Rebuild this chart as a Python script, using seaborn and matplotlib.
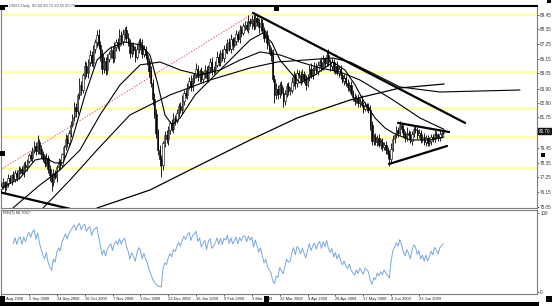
import numpy as np
import pandas as pd
import matplotlib
matplotlib.use("Agg")
import matplotlib.pyplot as plt
import seaborn as sns
from matplotlib.patches import Rectangle

# ---------------- data ----------------
closes = [
    76.6, 76.9, 76.5, 76.8, 77.2, 77.0, 77.4, 77.1, 77.6, 77.3, 77.8, 77.9, 77.6, 78.2, 78.0, 78.5, 78.9, 78.7, 79.3, 79.6, 79.2, 79.9,
    79.4, 79.0, 78.6, 78.3, 78.7, 77.9, 77.4, 76.9,
    77.6, 77.3, 78.0, 78.4, 78.2, 79.0, 79.5, 80.1, 79.8, 80.6, 81.2,
    81.8, 82.5, 82.2, 83.4, 84.2, 83.8, 84.9, 85.6, 85.1, 85.9, 86.4, 85.8, 86.9, 87.4, 87.9,
    87.2, 86.5, 85.4, 86.0, 85.3, 86.1, 86.5, 86.8, 86.2, 87.0, 87.4, 87.1, 87.9, 87.5, 88.0, 88.3,
    87.7, 87.3, 86.6, 87.1, 86.8, 86.3, 86.9, 87.4, 87.2, 86.5, 86.9, 86.4, 86.0, 85.2, 84.3, 83.1, 82.0, 80.6, 79.3, 78.6, 78.2,
    79.8, 80.4, 80.1, 80.8, 81.3, 80.9, 81.7, 81.5, 82.1, 82.6, 82.3, 83.0, 83.6, 83.4, 84.1, 84.5, 84.0, 84.7, 84.9,
    85.4, 84.8, 85.2, 84.6, 85.0, 85.3, 84.7, 85.5, 85.9, 85.2, 85.4, 85.7, 86.3, 85.9, 86.6, 86.2, 86.9, 86.8, 87.4, 86.9,
    87.6, 87.2, 87.5, 88.0, 87.6, 88.3, 88.1, 88.6, 88.7, 88.4, 89.0, 88.8, 89.1, 88.6, 89.2,
    88.9, 88.5, 88.8, 88.3, 87.7, 87.9, 87.2, 86.8, 86.4, 84.6, 83.4, 83.9, 83.5, 84.2, 83.6, 83.0,
    83.5, 84.1, 83.7, 83.8, 84.4, 84.9, 84.3, 85.1, 84.9, 84.5, 85.0, 84.6, 84.2, 84.8, 85.4, 84.9, 85.3, 85.6, 85.2, 85.7,
    85.9, 85.5, 86.1, 85.8, 86.4,
    85.9, 85.6, 85.9, 85.3, 85.6, 85.1, 85.4, 84.9, 84.5, 84.7, 84.3, 84.0, 84.2, 83.6, 83.3, 83.0, 83.2, 82.8, 83.0, 82.7,
    82.4, 82.6, 82.5, 82.3,
    81.2, 80.0, 80.3, 79.9, 80.2, 79.7, 79.9, 79.5, 79.7, 79.3, 79.0, 78.6,
    79.4, 80.1, 80.4, 80.8, 80.6, 81.2, 80.9, 80.5, 80.2, 80.6, 80.4, 80.0, 80.5, 80.9, 80.8, 80.4, 80.6, 80.1, 80.3, 79.9,
    80.2, 79.8, 80.0, 80.3, 80.1, 80.5, 80.4, 80.2, 80.5, 80.6, 80.7,
]
first_open = 76.4
# upper / lower shadow lengths, tenths of a point per bar
wick_up_tenths = ("2312321322 3122312324 3523234232 3223212432 3243253243 2433245343 3423342353 4234323342 "
                  "3432324354 3432343234 2323423234 3243232432 3423432334 2342332432 3342343234 3234325343 "
                  "2343232432 3234232342 3232432352 3234232323 2323232423 2343232323 2323432323 2324232322 "
                  "3223223223 22322")
wick_dn_tenths = ("3242323223 2323232232 3243232347 3242323232 3234234233 4323343543 4323433243 3432433423 "
                  "4323343434 4594334323 3232332323 3423423323 4323233232 3234232332 3232432343 2343342634 "
                  "3253233234 3232342323 3232323234 3232332323 3233233232 3243323233 2345323232 3232323223 "
                  "2322322322 32222")

date_labels = ["11 Aug 2008", "2 Sep 2008", "24 Sep 2008", "16 Oct 2008", "7 Nov 2008", "1 Dec 2008",
               "23 Dec 2008", "16 Jan 2009", "9 Feb 2009", "3 Mar 2009", "22 Mar 2009", "9 Apr 2009",
               "28 Apr 2009", "17 May 2009", "4 Jun 2009", "23 Jun 2009"]
date_label_bars = [0, 16, 32, 48, 64, 80, 96, 112, 128, 144, 160, 176, 192, 208, 224, 240]

price_ticks = [75.05, 76.15, 77.25, 78.35, 79.45, 81.75, 82.80, 83.90, 85.05, 86.15, 87.25, 88.35, 89.45]
price_tick_labels = ["75.05", "76.15", "77.25", "78.35", "79.45", "81.75", "82.80", "83.90", "85.05",
                     "86.15", "87.25", "88.35", "89.45"]
last_price_label = "80.70"
last_price = 80.70
level_lines = [89.50, 85.15, 82.45, 80.28, 77.95]

ma_fast_bar = [0.5, 10.9, 19.5, 25.2, 31, 35.6, 40.7, 48.2, 55.1, 62.6, 71.2, 79.8, 85.5, 90.1, 94.1, 98.2, 102.8,
               111.4, 120, 131.5, 143, 150.4, 155.6, 160.2, 166, 171.7, 180.3, 190.6, 197.5, 203.3, 207.9, 214.8,
               220.5, 225.1, 234.9, 246.3, 254.4]
ma_fast_val = [76.45, 77.20, 78.55, 78.70, 78.33, 78.33, 80.05, 83.43, 86.05, 86.95, 87.40, 87.18, 86.43, 84.18,
               81.93, 81.18, 81.70, 83.43, 84.55, 86.05, 87.55, 88.08, 87.33, 86.05, 85.15, 84.33, 84.93, 85.90,
               85.30, 84.18, 83.05, 81.70, 80.95, 80.58, 80.05, 80.05, 80.28]
ma_mid_bar = [6.8, 22.3, 33.8, 45.3, 56.8, 68.3, 79.8, 91.3, 102.8, 114.2, 125.7, 137.2, 148.7, 160.2, 171.7, 183.2,
              194.7, 206.1, 217.6, 225.1, 240.6, 254.4]
ma_mid_val = [74.95, 76.68, 77.80, 79.30, 81.93, 84.18, 85.68, 85.90, 85.30, 84.93, 85.30, 86.05, 86.65, 86.43, 85.90,
              85.45, 85.15, 84.55, 83.65, 83.05, 81.70, 80.85]
ma_slow_bar = [24.1, 39.6, 55.1, 74, 97, 120, 143, 158.5, 190.6, 200.4, 229.1, 252.1, 298]
ma_slow_val = [74.95, 77.05, 79.30, 81.93, 83.43, 84.55, 85.45, 85.90, 86.20, 85.90, 84.03, 83.65, 83.80]
ma_long_bar = [55.1, 85.5, 114.2, 143, 170, 200.4, 229.1, 254.4]
ma_long_val = [74.95, 76.30, 78.18, 80.05, 81.70, 83.05, 83.95, 84.25]

trend_lines = {
    "resistance": ([144.7, 266.5], [89.58, 81.33]),
    "tri_top": ([228.0, 257.3], [81.33, 80.65]),
    "tri_bottom": ([222.8, 256.1], [78.25, 79.60]),
    "old_support": ([0.35, 60.0], [76.10, 74.25]),
}
red_line = ([-0.6, 144.2], [77.8, 89.5])

rsi_title = "RSI(7) 60.7057"
chart_title = "USDX,Daily  80.64 80.73 80.55 80.70"

# ---------------- derived OHLC ----------------
n = min(len(closes), len(wick_up_tenths.replace(" ", "")), len(wick_dn_tenths.replace(" ", "")))
c = np.array(closes[:n])
o = np.concatenate([[first_open], c[:-1]])
wu = np.array([int(ch) for ch in wick_up_tenths.replace(" ", "")][:n]) / 10.0
wd = np.array([int(ch) for ch in wick_dn_tenths.replace(" ", "")][:n]) / 10.0
hi = np.maximum(o, c) + wu
lo = np.minimum(o, c) - wd
bars = np.arange(n)

# RSI(7), Wilder smoothing
d = np.diff(c)
g = np.clip(d, 0, None)
l = np.clip(-d, 0, None)
per = 7
rsi = np.full(n, np.nan)
ag, al = g[:per].mean(), l[:per].mean()
rsi[per] = 100 - 100 / (1 + ag / al) if al > 0 else 100
for k in range(per, len(d)):
    ag = (ag * (per - 1) + g[k]) / per
    al = (al * (per - 1) + l[k]) / per
    rsi[k + 1] = 100 - 100 / (1 + ag / al) if al > 0 else 100

# ---------------- figure ----------------
sns.set_theme(style="white")
plt.rcParams['font.family'] = ['Liberation Sans', 'DejaVu Sans']

W, H = 552, 306
fig = plt.figure(figsize=(W / 100, H / 100), dpi=100)
fig.patch.set_facecolor("white")

def fx(px):
    return px / W

def fy(py):
    return 1 - py / H

ax = fig.add_axes([fx(1), fy(208), fx(536), 202 / H])
axr = fig.add_axes([fx(1), fy(294), fx(536), 84 / H])

xlim = (-0.06, 307.8)
TXT = "#333333"

# level lines
for lv in level_lines:
    ax.axhline(lv, color="#FFFFB0", lw=2.0, zorder=1)

# candles
up = c >= o
ax.vlines(bars, lo, hi, color="black", lw=0.6, zorder=3)
body_h = np.maximum(np.abs(c - o), 0.03)
ax.bar(bars, body_h, bottom=np.minimum(o, c), width=0.75,
       color=np.where(up, "white", "black"), edgecolor="black", linewidth=0.4, zorder=4)

# moving averages
for bx, by, lw in [(ma_fast_bar, ma_fast_val, 0.8), (ma_mid_bar, ma_mid_val, 0.8),
                   (ma_slow_bar, ma_slow_val, 0.8), (ma_long_bar, ma_long_val, 0.9)]:
    sns.lineplot(x=bx, y=by, ax=ax, color="black", lw=lw, estimator=None, sort=False, zorder=5)

# trend lines
for name, (tx, ty) in trend_lines.items():
    ax.plot(tx, ty, color="black", lw=1.6, zorder=6, solid_capstyle="round")
ax.plot(red_line[0], red_line[1], color="#E06060", lw=0.7, ls=(0, (1.5, 1.5)), zorder=2)

ax.set_xlim(*xlim)
ax.set_ylim(74.95, 90.10)
ax.yaxis.tick_right()
ax.set_yticks(price_ticks)
ax.set_yticklabels(price_tick_labels)
ax.tick_params(axis="y", which="both", direction="out", length=1.5, width=0.5, pad=0.8,
               labelsize=3.3, colors=TXT, right=True, left=False)
ax.set_xticks([])
ax.set_xlabel("")
ax.set_ylabel("")
for s in ax.spines.values():
    s.set_color("#7F7F7F")
    s.set_linewidth(0.8)
ax.spines["top"].set_color("black")
ax.spines["top"].set_linewidth(1.5)

ax.text(1.003, last_price, last_price_label, transform=ax.get_yaxis_transform(), ha="left", va="center",
        fontsize=3.3, color="white", bbox=dict(boxstyle="square,pad=0.12", fc="#111111", ec="#111111"), zorder=10,
        clip_on=False)

# RSI panel
sns.lineplot(x=bars, y=rsi, ax=axr, color="#79A7E0", lw=0.7, estimator=None)
axr.set_xlim(*xlim)
axr.set_ylim(-2.5, 103.8)
axr.yaxis.tick_right()
axr.set_yticks([0, 100])
axr.set_yticklabels(["0", "100"])
axr.tick_params(axis="y", direction="out", length=1.5, width=0.5, pad=0.8, labelsize=3.3, colors=TXT,
                right=True, left=False)
axr.set_xticks(date_label_bars)
axr.set_xticklabels(date_labels, ha="left")
axr.tick_params(axis="x", direction="out", length=1.5, width=0.5, pad=0.8, labelsize=2.9, colors="#222222",
                bottom=True)
axr.set_xlabel("")
axr.set_ylabel("")
for s in axr.spines.values():
    s.set_color("#7F7F7F")
    s.set_linewidth(0.8)
axr.text(0.004, 0.985, rsi_title, transform=axr.transAxes, ha="left", va="top", fontsize=2.9, color="#222222")

# chart title on the top border
ax.text(0.014, 1.0, chart_title, transform=ax.transAxes, ha="left", va="center", fontsize=2.9,
        color="#555555", bbox=dict(boxstyle="square,pad=0.2", fc="white", ec="none"), zorder=12, clip_on=False)

# MT4 style markers
for (x0, y0, w, h) in [(0, 5, 5, 5), (274, 6, 5, 5), (0, 151, 5, 5), (541, 153, 4, 4), (547, 0, 4, 3),
                       (0, 296, 5, 6), (264, 296, 5, 6), (546, 296, 6, 6), (0, 302, 539, 4)]:
    fig.add_artist(Rectangle((fx(x0), fy(y0 + h)), fx(w), h / H, transform=fig.transFigure,
                             color="black", lw=0))

fig.savefig("out.png", dpi=100, facecolor="white")
